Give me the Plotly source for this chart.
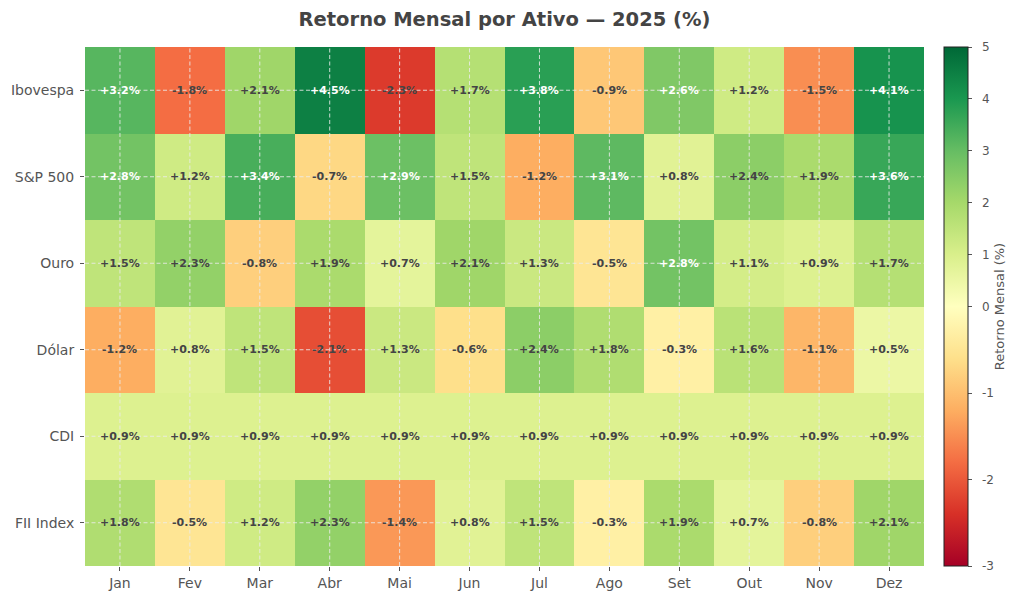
import plotly.graph_objects as go

months = ["Jan", "Fev", "Mar", "Abr", "Mai", "Jun", "Jul", "Ago", "Set", "Out", "Nov", "Dez"]
assets = ["Ibovespa", "S&P 500", "Ouro", "Dólar", "CDI", "FII Index"]

ibovespa = [3.2, -1.8, 2.1, 4.5, -2.3, 1.7, 3.8, -0.9, 2.6, 1.2, -1.5, 4.1]
sp500 = [2.8, 1.2, 3.4, -0.7, 2.9, 1.5, -1.2, 3.1, 0.8, 2.4, 1.9, 3.6]
ouro = [1.5, 2.3, -0.8, 1.9, 0.7, 2.1, 1.3, -0.5, 2.8, 1.1, 0.9, 1.7]
dolar = [-1.2, 0.8, 1.5, -2.1, 1.3, -0.6, 2.4, 1.8, -0.3, 1.6, -1.1, 0.5]
cdi = [0.9, 0.9, 0.9, 0.9, 0.9, 0.9, 0.9, 0.9, 0.9, 0.9, 0.9, 0.9]
fii = [1.8, -0.5, 1.2, 2.3, -1.4, 0.8, 1.5, -0.3, 1.9, 0.7, -0.8, 2.1]

values = [ibovespa, sp500, ouro, dolar, cdi, fii]
cbar_ticks = [-3, -2, -1, 0, 1, 2, 3, 4, 5]
vmin, vcenter, vmax = -3, 0, 5

def norm(v):
    if v >= vcenter:
        return 0.5 + 0.5 * (v - vcenter) / (vmax - vcenter)
    return 0.5 - 0.5 * (vcenter - v) / (vcenter - vmin)

rdylgn = ["#a50026", "#d73027", "#f46d43", "#fdae61", "#fee08b", "#ffffbf",
          "#d9ef8b", "#a6d96a", "#66bd63", "#1a9850", "#006837"]
colorscale = [[i / 10, c] for i, c in enumerate(rdylgn)]

zn = [[norm(v) for v in row] for row in values]

fig = go.Figure()
fig.add_trace(go.Heatmap(
    z=zn, x=months, y=assets, customdata=values,
    colorscale=colorscale, zmin=0, zmax=1,
    hovertemplate="%{y} %{x}: %{customdata:+.1f}%<extra></extra>",
    colorbar=dict(
        tickvals=[norm(t) for t in cbar_ticks],
        ticktext=["\u00a0\u00a0" + str(t) for t in cbar_ticks],
        ticks="outside", ticklen=4, tickcolor="#555", tickwidth=1,
        tickfont=dict(family="DejaVu Sans", size=12, color="#555"),
        outlinecolor="#222", outlinewidth=1,
        thickness=24, len=1, lenmode="fraction", y=0.5, yanchor="middle",
        x=1.024, xanchor="left", xpad=0, ypad=0,
        title=dict(text="Retorno Mensal (%)", side="right",
                   font=dict(family="DejaVu Sans", size=13, color="#555")),
    ),
))

annotations = []
for i, a in enumerate(assets):
    for j, m in enumerate(months):
        v = values[i][j]
        annotations.append(dict(
            x=m, y=a, text=f"{v:+.1f}%", showarrow=False,
            font=dict(family="DejaVu Sans", size=11, color="white" if v > 2.5 else "#444",
                      weight="bold"),
        ))

grid_line = dict(color="rgba(235,235,235,0.85)", width=1, dash="4px,2.5px")
shapes = []
for i in range(len(assets)):
    shapes.append(dict(type="line", xref="x domain", x0=0, x1=1, yref="y", y0=i, y1=i,
                       line=grid_line))
for j in range(len(months)):
    shapes.append(dict(type="line", yref="y domain", y0=0, y1=1, xref="x", x0=j, x1=j,
                       line=grid_line))

fig.update_layout(
    width=1024, height=602,
    margin=dict(l=77, r=108, t=39, b=44, autoexpand=False),
    paper_bgcolor="white", plot_bgcolor="white",
    title=dict(text="<b>Retorno Mensal por Ativo — 2025 (%)</b>", x=0.5, xref="paper",
               xanchor="center", y=0.982, yanchor="middle",
               font=dict(family="DejaVu Sans", size=19.5, color="#444")),
    annotations=annotations, shapes=shapes,
    xaxis=dict(ticks="outside", ticklen=4, tickcolor="#555", showgrid=False, zeroline=False,
               automargin=False,
               tickfont=dict(family="DejaVu Sans", size=14, color="#555"), showline=False),
    yaxis=dict(ticks="outside", ticklen=4, tickcolor="#555", showgrid=False, zeroline=False,
               autorange="reversed", automargin=False, ticklabelstandoff=3,
               tickfont=dict(family="DejaVu Sans", size=14, color="#555"), showline=False),
)

fig.write_html("out.html")
